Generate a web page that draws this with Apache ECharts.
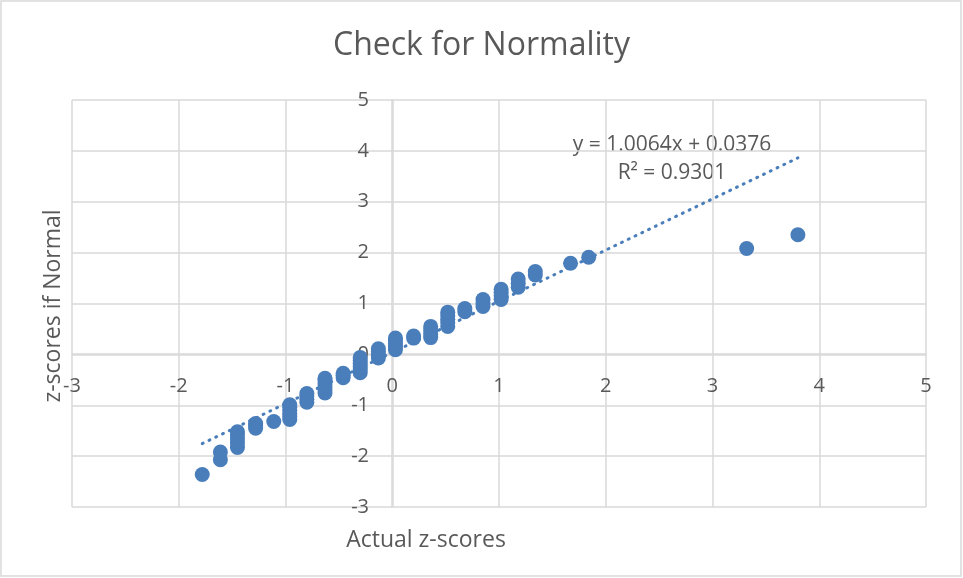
<!DOCTYPE html>
<html>
<head>
<meta charset="utf-8">
<script src="https://cdn.jsdelivr.net/npm/echarts@6/dist/echarts.min.js"></script>
<style>
  html, body { margin: 0; padding: 0; background: #fff; }
  #chart { width: 963px; height: 578px; }
</style>
</head>
<body>
<div id="chart"></div>
<script>
  // actual z-scores (x) and normal z-scores (y)
  var actualZ = [
    -1.78,
    -1.61, -1.61,
    -1.45, -1.45, -1.45, -1.45, -1.45,
    -1.28, -1.28, -1.28,
    -1.11,
    -0.96, -0.96, -0.96, -0.96, -0.96, -0.96,
    -0.80, -0.80, -0.80, -0.80,
    -0.63, -0.63, -0.63, -0.63, -0.63, -0.63,
    -0.46, -0.46, -0.46,
    -0.30, -0.30, -0.30, -0.30, -0.30, -0.30,
    -0.13, -0.13, -0.13, -0.13,
    0.03, 0.03, 0.03, 0.03, 0.03,
    0.20, 0.20,
    0.36, 0.36, 0.36, 0.36,
    0.52, 0.52, 0.52, 0.52, 0.52,
    0.68, 0.68,
    0.85, 0.85, 0.85,
    1.02, 1.02, 1.02, 1.02,
    1.18, 1.18, 1.18,
    1.34, 1.34,
    1.67,
    1.84,
    3.32,
    3.80
  ]
  var normalZ = [
    -2.36,
    -2.07, -1.92,
    -1.83, -1.74, -1.66, -1.58, -1.52,
    -1.45, -1.40, -1.36,
    -1.32,
    -1.28, -1.22, -1.16, -1.10, -1.04, -0.99,
    -0.94, -0.88, -0.82, -0.77,
    -0.76, -0.70, -0.64, -0.58, -0.52, -0.47,
    -0.46, -0.41, -0.37,
    -0.36, -0.30, -0.24, -0.18, -0.12, -0.06,
    -0.07, -0.01, 0.05, 0.11,
    0.09, 0.15, 0.21, 0.27, 0.32,
    0.32, 0.36,
    0.33, 0.40, 0.47, 0.55,
    0.55, 0.62, 0.69, 0.76, 0.83,
    0.84, 0.90,
    0.94, 1.01, 1.08,
    1.08, 1.15, 1.22, 1.28,
    1.32, 1.40, 1.48,
    1.56, 1.63,
    1.79,
    1.91,
    2.08,
    2.35
  ]
  // linear trendline ends (y = 1.0064x + 0.0376)
  var trendX = [-1.78, 3.80]
  var trendY = [-1.754, 3.862]
  var equationText = 'y = 1.0064x + 0.0376'
  var r2Text = 'R² = 0.9301'

  var blue = '#4a7ebb'
  var textColor = '#595959'
  var gridColor = '#d9d9d9'
  var font = '"Open Sans", "Noto Sans", sans-serif'

  var points = actualZ.map(function (x, i) { return [x, normalZ[i]] })
  var trend = trendX.map(function (x, i) { return [x, trendY[i]] })

  var axisCommon = {
    type: 'value',
    min: -3,
    max: 5,
    interval: 1,
    axisLine: { onZero: false, lineStyle: { color: gridColor, width: 1.5 } },
    axisTick: { show: false },
    splitLine: { lineStyle: { color: gridColor, width: 1.5 } },
    axisLabel: { color: textColor, fontSize: 20, fontFamily: font }
  }

  var chart = echarts.init(document.getElementById('chart'))
  var option = {
    backgroundColor: '#fff',
    animation: false,
    title: {
      text: 'Check for Normality',
      left: 'center',
      top: 25,
      textStyle: { color: textColor, fontSize: 32, fontWeight: 'normal', fontFamily: font }
    },
    grid: { left: 72, right: 37, top: 100, bottom: 71, outerBoundsMode: 'none' },
    // axes crossing at zero: x line lifted 153px, y line moved 320px right
    xAxis: Object.assign({}, axisCommon, {
      position: 'bottom',
      offset: -153,
      axisLabel: Object.assign({}, axisCommon.axisLabel, { margin: 22 })
    }),
    yAxis: Object.assign({}, axisCommon, {
      position: 'left',
      offset: -320,
      axisLabel: Object.assign({}, axisCommon.axisLabel, { margin: 23 })
    }),
    graphic: [
      {
        type: 'rect',
        shape: { x: 1, y: 1, width: 960, height: 575 },
        style: { fill: 'none', stroke: gridColor, lineWidth: 1.5 },
        silent: true
      },
      {
        type: 'text',
        x: 426, y: 540,
        style: { text: 'Actual z-scores', fill: textColor, font: '23px ' + font, align: 'center', verticalAlign: 'middle' }
      },
      {
        type: 'text',
        x: 53, y: 306,
        rotation: Math.PI / 2,
        style: { text: 'z-scores if Normal', fill: textColor, font: '23px ' + font, align: 'center', verticalAlign: 'middle' }
      },
      {
        type: 'text',
        x: 672, y: 145,
        style: { text: equationText, fill: textColor, font: '21px ' + font, align: 'center', verticalAlign: 'middle' }
      },
      {
        type: 'text',
        x: 672, y: 173,
        style: { text: r2Text, fill: textColor, font: '21px ' + font, align: 'center', verticalAlign: 'middle' }
      }
    ],
    series: [
      {
        type: 'scatter',
        data: points,
        symbolSize: 15,
        itemStyle: { color: blue, opacity: 1 }
      },
      {
        type: 'line',
        data: trend,
        showSymbol: false,
        z: 3,
        lineStyle: { color: blue, width: 3, type: [1, 6.5], cap: 'round' }
      }
    ]
  }
  chart.setOption(option)
</script>
</body>
</html>
